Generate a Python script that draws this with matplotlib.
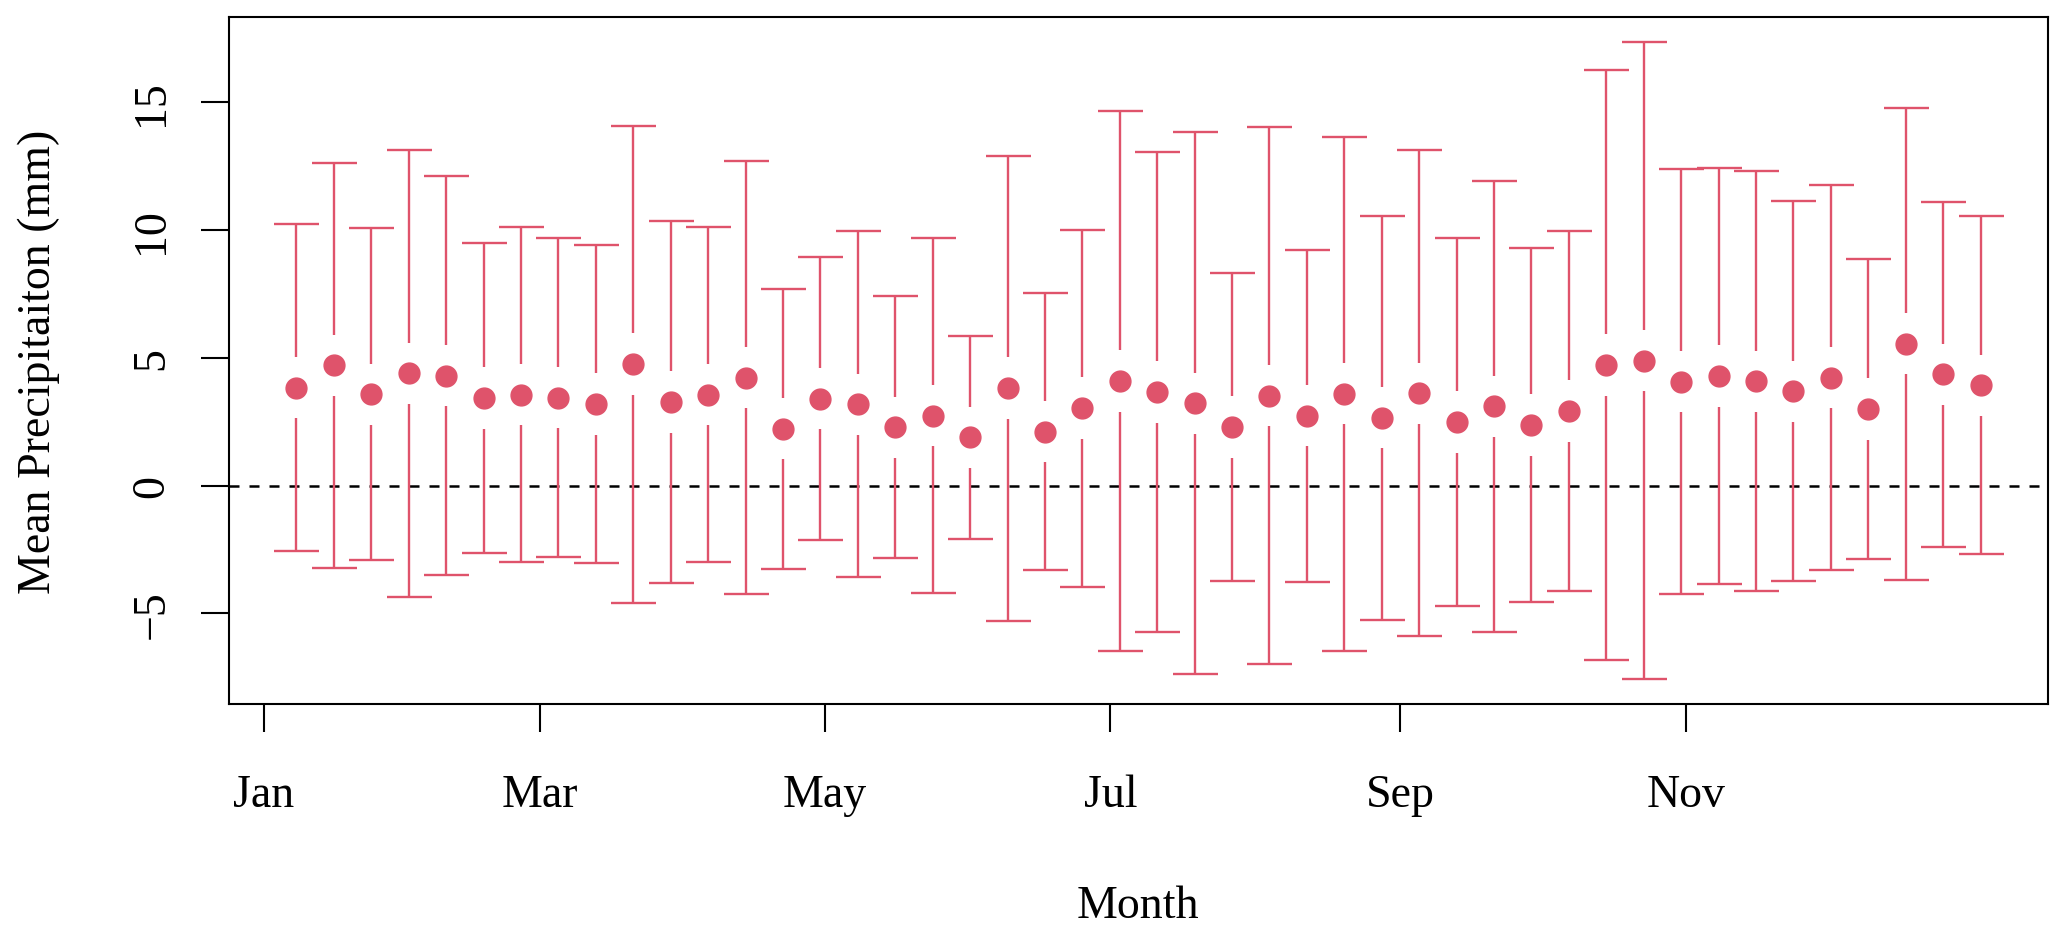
import numpy as np
import pandas as pd
import matplotlib
matplotlib.use("Agg")
import matplotlib.pyplot as plt

plt.rcParams['font.family'] = ['Liberation Serif', 'DejaVu Serif']

# 8-day periods through the year
dates = pd.date_range('2021-01-08', periods=46, freq='8D')

mean_precip = [3.83, 4.70, 3.57, 4.39, 4.30, 3.42, 3.56, 3.44, 3.19, 4.75,
               3.27, 3.55, 4.22, 2.22, 3.40, 3.18, 2.28, 2.73, 1.89, 3.81,
               2.11, 3.03, 4.09, 3.66, 3.22, 2.29, 3.52, 2.73, 3.59, 2.65,
               3.61, 2.49, 3.10, 2.37, 2.92, 4.72, 4.89, 4.06, 4.28, 4.08,
               3.69, 4.22, 2.99, 5.55, 4.35, 3.92]
sd_precip = [6.40, 7.92, 6.50, 8.74, 7.80, 6.06, 6.56, 6.24, 6.23, 9.33,
             7.08, 6.55, 8.46, 5.47, 5.52, 6.77, 5.12, 6.95, 3.97, 9.09,
             5.43, 6.98, 10.56, 9.39, 10.60, 6.01, 10.49, 6.50, 10.06, 7.90,
             9.50, 7.20, 8.81, 6.91, 7.05, 11.55, 12.44, 8.32, 8.14, 8.21,
             7.44, 7.53, 5.88, 9.23, 6.74, 6.61]

tick_dates = pd.to_datetime(['2021-01-01', '2021-03-01', '2021-05-01',
                             '2021-07-01', '2021-09-01', '2021-11-01'])
tick_labels = ['Jan', 'Mar', 'May', 'Jul', 'Sep', 'Nov']

col = '#DF536B'
mean = np.array(mean_precip)
sd = np.array(sd_precip)
lo = mean - sd
hi = mean + sd
gap = 1.2

fig = plt.figure(figsize=(20.67, 9.37), dpi=100)
ax = fig.add_axes([229 / 2067, 1 - 705 / 937, (2048 - 229) / 2067, (705 - 18) / 937])

ax.axhline(0, color='black', lw=1.8, ls=(0, (4, 4)), zorder=1)

# bars with a gap around each point, like plotCI
ax.vlines(dates, mean + gap, hi, color=col, lw=1.7, zorder=2)
ax.vlines(dates, lo, mean - gap, color=col, lw=1.7, zorder=2)
ax.plot(dates, hi, ls='none', marker='_', ms=32.4, mew=1.7, color=col, zorder=2)
ax.plot(dates, lo, ls='none', marker='_', ms=32.4, mew=1.7, color=col, zorder=2)
ax.plot(dates, mean, ls='none', marker='o', ms=15, color=col, mec=col, zorder=3)

# R-style 4% padding
x0 = matplotlib.dates.date2num(dates[0])
x1 = matplotlib.dates.date2num(dates[-1])
ax.set_xlim(x0 - 0.04 * (x1 - x0), x1 + 0.04 * (x1 - x0))
ax.set_ylim(lo.min() - 0.04 * (hi.max() - lo.min()), hi.max() + 0.04 * (hi.max() - lo.min()))

ax.set_xticks(tick_dates)
ax.set_xticklabels(tick_labels)
ax.set_yticks([-5, 0, 5, 10, 15])
ax.set_yticklabels(['\u22125', '0', '5', '10', '15'], rotation=90, va='center')

for s in ax.spines.values():
    s.set_linewidth(1.5)
ax.tick_params(axis='both', length=20, width=1.5, labelsize=33, direction='out')
ax.tick_params(axis='x', pad=30)
ax.tick_params(axis='y', pad=20)

fig.text(1138 / 2067, 1 - 918 / 937, 'Month', fontsize=33, ha='center', va='baseline')
fig.text(50 / 2067, 1 - 361.5 / 937, 'Mean Precipitaiton (mm)', fontsize=33,
         rotation=90, rotation_mode='anchor', ha='center', va='baseline')

fig.savefig('out.png', dpi=100)
